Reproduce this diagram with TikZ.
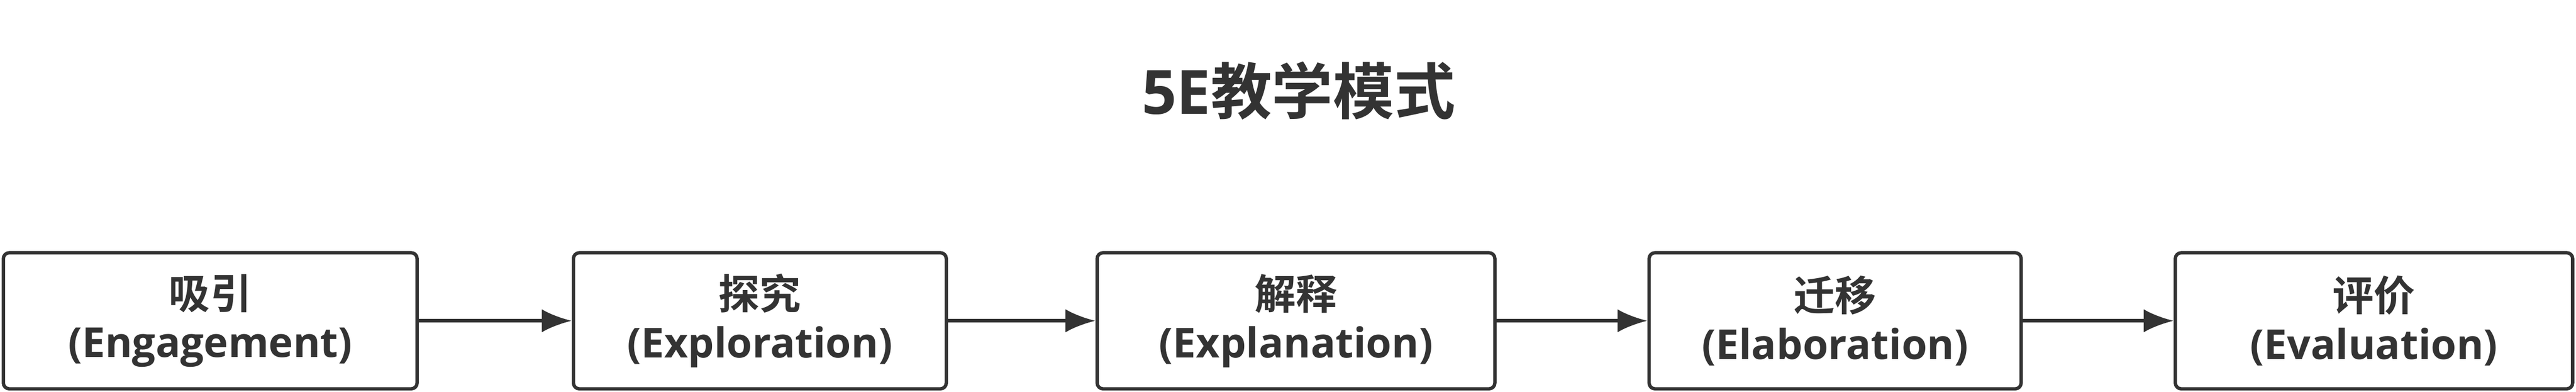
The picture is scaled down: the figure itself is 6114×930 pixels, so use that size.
\documentclass[tikz,border=0pt]{standalone}
\usepackage{fontspec}
\setmainfont{Open Sans}[BoldFont={Open Sans Bold}]
\newfontfamily\cjk{Noto Sans CJK SC}[BoldFont={Noto Sans CJK SC Bold}]
\usetikzlibrary{arrows.meta}
\definecolor{ink}{HTML}{333333}

\begin{document}
\begin{tikzpicture}[x=0.25pt,y=-0.25pt]
              \tikzstyle{stage}=[draw=ink, line width=2pt, rounded corners=3.5pt, minimum height=80.75pt, inner sep=0pt, align=center, text=ink, font=\bfseries\fontsize{24.5pt}{28.75pt}\selectfont, execute at begin node={\rule{0pt}{1.1em}}]
              \tikzstyle{flow}=[draw=ink, line width=2pt, -{Latex[length=17.75pt,width=13.75pt]}]
              \useasboundingbox (0,0) rectangle (6114,930);
              \node (title) at (3082,271) [anchor=base, text=ink, font=\bfseries\fontsize{36.25pt}{40pt}\selectfont] {5E{\cjk 教学模式}};
              \node (engage) at (499,761.5) [stage, minimum width=245.5pt] {{\cjk 吸引}\\(Engagement)};
              \node (explore) at (1803.5,761.5) [stage, minimum width=221.25pt] {{\cjk 探究}\\(Exploration)};
              \node (explain) at (3076,761.5) [stage, minimum width=236pt] {{\cjk 解释}\\(Explanation)};
              \node (elaborate) at (4355.5,761.5) [stage, minimum width=220.75pt] {{\cjk 迁移}\\(Elaboration)};
              \node (evaluate) at (5634.5,761.5) [stage, minimum width=235.75pt] {{\cjk 评价}\\(Evaluation)};
              \draw [flow] (engage) -- (explore);
              \draw [flow] (explore) -- (explain);
              \draw [flow] (explain) -- (elaborate);
              \draw [flow] (elaborate) -- (evaluate);
\end{tikzpicture}
\end{document}
